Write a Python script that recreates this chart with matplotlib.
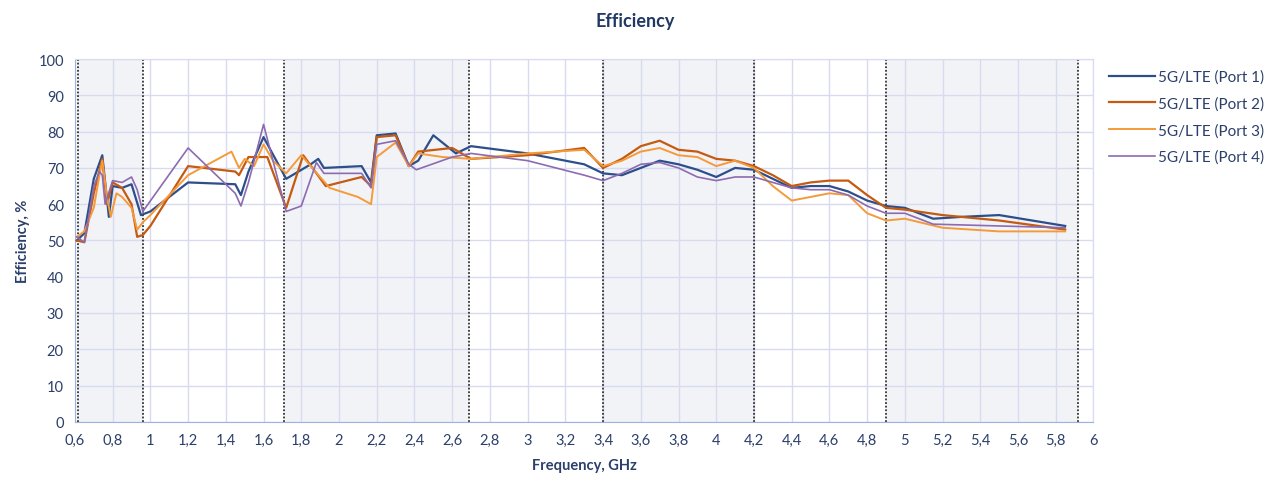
import matplotlib
matplotlib.use("Agg")
import matplotlib.pyplot as plt
import numpy as np

plt.rcParams['font.family'] = ['Lato', 'DejaVu Sans']

# ---------------- data ----------------
f1 = [0.61, 0.65, 0.70, 0.745, 0.78, 0.80, 0.85, 0.90, 0.95, 1.00, 1.20, 1.45, 1.48, 1.52,
      1.60, 1.72, 1.85, 1.89, 1.92, 2.12, 2.17, 2.20, 2.30, 2.37, 2.42, 2.50, 2.62, 2.70,
      3.00, 3.30, 3.40, 3.50, 3.60, 3.70, 3.80, 3.90, 4.00, 4.10, 4.20, 4.30, 4.40, 4.50,
      4.60, 4.70, 4.80, 4.90, 5.00, 5.15, 5.30, 5.50, 5.85]
p1 = [50, 52, 67, 73.5, 56.5, 65, 64.5, 65.5, 57, 58, 66, 65.5, 62.5, 69,
      78.5, 67, 71, 72.5, 70, 70.5, 66, 79, 79.5, 70.5, 72, 79, 74, 76,
      74, 71, 68.5, 68, 70, 72, 71, 69.5, 67.5, 70, 69.5, 67, 64.5, 65,
      65, 63.5, 61, 59.5, 59, 56, 56.5, 57, 54]

f2 = [0.61, 0.65, 0.70, 0.745, 0.77, 0.80, 0.85, 0.90, 0.93, 0.96, 1.00, 1.20, 1.45, 1.47,
      1.52, 1.58, 1.62, 1.72, 1.81, 1.93, 2.12, 2.17, 2.20, 2.30, 2.37, 2.42, 2.60, 2.70,
      3.00, 3.30, 3.40, 3.50, 3.60, 3.70, 3.80, 3.90, 4.00, 4.10, 4.20, 4.30, 4.40, 4.50,
      4.60, 4.70, 4.80, 4.90, 5.00, 5.20, 5.50, 5.85]
p2 = [50, 49.5, 63, 72.5, 60, 66, 64.5, 60, 51, 51.5, 54, 70.5, 69, 68,
      73, 73, 73, 59, 73.5, 65, 67.5, 65, 78.5, 79, 70.5, 74.5, 75.5, 72.5,
      73.5, 75.5, 70, 72.5, 76, 77.5, 75, 74.5, 72.5, 72, 70.5, 68, 65, 66,
      66.5, 66.5, 62.5, 59, 58.5, 57, 55.5, 53]

f3 = [0.61, 0.65, 0.70, 0.73, 0.745, 0.77, 0.79, 0.82, 0.85, 0.90, 0.93, 0.96, 1.00, 1.20,
      1.43, 1.47, 1.50, 1.55, 1.60, 1.65, 1.72, 1.80, 1.95, 2.10, 2.17, 2.20, 2.30, 2.37,
      2.42, 2.55, 2.70, 3.00, 3.30, 3.40, 3.50, 3.60, 3.70, 3.80, 3.90, 4.00, 4.10, 4.20,
      4.30, 4.40, 4.50, 4.60, 4.70, 4.80, 4.90, 5.00, 5.20, 5.50, 5.85]
p3 = [51, 52.5, 59, 68, 72, 62, 56.5, 63, 62, 59, 53, 55, 57, 68,
      74.5, 70, 72.5, 70.5, 76.5, 72, 68.5, 73.5, 64.5, 62, 60, 73, 77, 70.5,
      74, 73, 72.5, 74, 75, 70.5, 72, 74.5, 75.5, 73.5, 73, 70.5, 72, 70,
      65, 61, 62, 63, 62.5, 57.5, 55.5, 56, 53.5, 52.5, 52.5]

f4 = [0.61, 0.65, 0.70, 0.73, 0.745, 0.76, 0.80, 0.85, 0.90, 0.93, 0.96, 1.20, 1.45, 1.48,
      1.52, 1.60, 1.72, 1.80, 1.88, 1.92, 2.12, 2.17, 2.20, 2.30, 2.37, 2.41, 2.60, 2.70,
      3.00, 3.30, 3.40, 3.50, 3.60, 3.70, 3.80, 3.90, 4.00, 4.10, 4.20, 4.30, 4.40, 4.50,
      4.60, 4.70, 4.80, 4.90, 5.00, 5.15, 5.50, 5.85]
p4 = [51, 49.5, 65, 69, 68, 60, 66.5, 66, 67.5, 64, 58, 75.5, 63, 59.5,
      66, 82, 58, 59.5, 71.5, 68.5, 68.5, 64.5, 76.5, 77.5, 71, 69.5, 73, 74,
      72, 68, 66.5, 68.5, 71, 71.5, 70, 67.5, 66.5, 67.5, 67.5, 66, 64.5, 64,
      64, 62.5, 59.5, 57.5, 57.5, 54.5, 54, 53.5]

series_names = ["5G/LTE (Port 1)", "5G/LTE (Port 2)", "5G/LTE (Port 3)", "5G/LTE (Port 4)"]
band_edges = [0.617, 0.96, 1.71, 2.69, 3.40, 4.20, 4.90, 5.92]
shaded_bands = [(0.617, 0.96), (1.71, 2.69), (3.40, 4.20), (4.90, 5.92)]
x_ticks = [0.6, 0.8, 1.0, 1.2, 1.4, 1.6, 1.8, 2.0, 2.2, 2.4, 2.6, 2.8, 3.0, 3.2, 3.4, 3.6,
           3.8, 4.0, 4.2, 4.4, 4.6, 4.8, 5.0, 5.2, 5.4, 5.6, 5.8, 6.0]
x_labels = ["0,6", "0,8", "1", "1,2", "1,4", "1,6", "1,8", "2", "2,2", "2,4", "2,6", "2,8",
            "3", "3,2", "3,4", "3,6", "3,8", "4", "4,2", "4,4", "4,6", "4,8", "5", "5,2",
            "5,4", "5,6", "5,8", "6"]
y_ticks = list(range(0, 101, 10))

# ---------------- plot ----------------
txt = '#2B3F6B'
fig = plt.figure(figsize=(12.7, 4.81), dpi=100)
ax = fig.add_axes([0.059, 0.121, 0.802, 0.754])

for a, b in shaded_bands:
    ax.axvspan(a, b, color='#F2F3F7', zorder=0, lw=0)

ax.set_xlim(0.6, 6.0)
ax.set_ylim(0, 100)
ax.set_xticks(x_ticks)
ax.set_xticklabels(x_labels)
ax.set_yticks(y_ticks)
ax.grid(True, color='#D8DAF0', lw=1.0, zorder=1)
ax.set_axisbelow(True)

for e in band_edges:
    ax.axvline(e, color='#333333', ls=(0, (1, 1)), lw=1.3, zorder=2)

colors = ['#2C4F8C', '#C55A11', '#F59A3A', '#8C6BB1']
widths = [1.6, 1.6, 1.4, 1.2]
for fx, py, c, w, n in zip([f1, f2, f3, f4], [p1, p2, p3, p4], colors, widths, series_names):
    ax.plot(fx, py, color=c, lw=w, label=n, zorder=3)

for s in ['top', 'right']:
    ax.spines[s].set_color('#D8DAF0')
for s in ['left', 'bottom']:
    ax.spines[s].set_color('#9DB3DE')
ax.tick_params(axis='both', length=0, colors=txt, labelsize=10.5, pad=8)

ax.set_xlabel('Frequency, GHz', fontsize=10.5, fontweight='bold', color=txt, labelpad=8)
ax.set_ylabel('Efficiency, %', fontsize=10.5, fontweight='bold', color=txt, labelpad=6)
fig.text(0.5, 0.955, 'Efficiency', ha='center', va='center', fontsize=13,
         fontweight='bold', color='#1F3864')

leg = ax.legend(loc='upper left', bbox_to_anchor=(1.005, 1.0), frameon=False,
                fontsize=11, handlelength=3.0, labelspacing=0.8, handletextpad=0.2,
                borderaxespad=0.3)
for t in leg.get_texts():
    t.set_color(txt)

fig.savefig('out.png', dpi=100)
